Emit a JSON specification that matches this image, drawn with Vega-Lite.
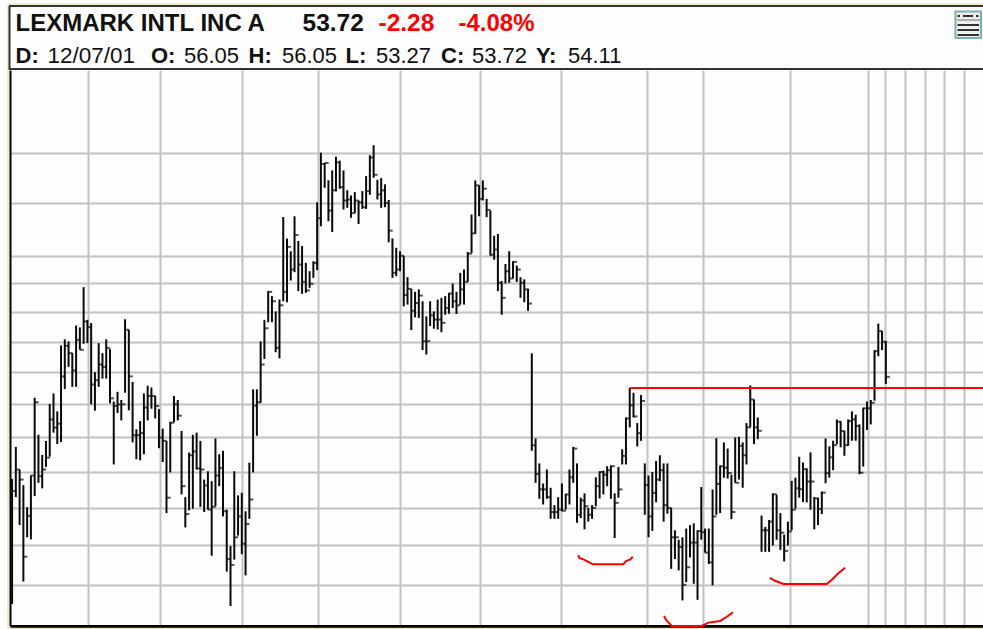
{"$schema":"https://vega.github.io/schema/vega-lite/v6.json","width":973,"height":556,"autosize":{"type":"none"},"padding":{"left":10,"top":70,"right":0,"bottom":3},"background":"#fdfdfd","view":{"stroke":null},
"datasets":{"one":[{"k":1}],
"bars":[
{"day":1,"high":47.61,"low":41.05,"close":46.93},{"day":2,"high":49.45,"low":46.59,"close":48.14},{"day":3,"high":48.14,"low":45.08,"close":47.57},{"day":4,"high":47.26,"low":42.16,"close":43.42},{"day":5,"high":46.04,"low":44.43,"close":45.57},{"day":6,"high":47.8,"low":44.32,"close":47.8},{"day":7,"high":52.41,"low":46.65,"close":52.13},{"day":8,"high":50.16,"low":47.39,"close":47.76},{"day":9,"high":48.98,"low":47.08,"close":48.14},{"day":10,"high":49.8,"low":48.29,"close":48.82},
{"day":11,"high":52.02,"low":48.88,"close":51.08},{"day":12,"high":52.68,"low":50.29,"close":50.59},{"day":13,"high":51.57,"low":49.61,"close":50.82},{"day":14,"high":55.76,"low":49.73,"close":53.75},{"day":15,"high":56.16,"low":52.95,"close":55.73},{"day":16,"high":56.02,"low":54.36,"close":55.25},{"day":17,"high":55.25,"low":53.09,"close":54.13},{"day":18,"high":57.09,"low":53.09,"close":56.13},{"day":19,"high":56.96,"low":55.47,"close":55.47},{"day":20,"high":59.74,"low":55.87,"close":57.36},
{"day":21,"high":57.47,"low":55.91,"close":56.98},{"day":22,"high":57.25,"low":52.0,"close":53.24},{"day":23,"high":54.02,"low":51.61,"close":53.51},{"day":24,"high":55.91,"low":53.09,"close":54.51},{"day":25,"high":55.25,"low":53.61,"close":54.36},{"day":26,"high":56.16,"low":53.61,"close":55.58},{"day":27,"high":55.51,"low":52.06,"close":52.37},{"day":28,"high":52.17,"low":48.43,"close":51.9},{"day":29,"high":52.78,"low":51.47,"close":52.0},{"day":30,"high":52.27,"low":51.02,"close":52.0},
{"day":31,"high":57.51,"low":52.72,"close":56.8},{"day":32,"high":56.8,"low":51.63,"close":53.75},{"day":33,"high":53.4,"low":49.71,"close":50.14},{"day":34,"high":50.49,"low":48.73,"close":50.14},{"day":35,"high":50.98,"low":48.67,"close":50.26},{"day":36,"high":52.68,"low":49.02,"close":51.8},{"day":37,"high":53.16,"low":51.02,"close":52.52},{"day":38,"high":53.05,"low":51.73,"close":52.52},{"day":39,"high":52.52,"low":51.14,"close":51.9},{"day":40,"high":51.71,"low":49.37,"close":50.0},
{"day":41,"high":50.53,"low":48.57,"close":49.8},{"day":42,"high":49.8,"low":45.72,"close":46.56},{"day":43,"high":50.94,"low":47.98,"close":50.88},{"day":44,"high":52.52,"low":50.92,"close":52.0},{"day":45,"high":52.27,"low":51.02,"close":51.31},{"day":46,"high":50.39,"low":46.74,"close":47.2},{"day":47,"high":46.59,"low":44.95,"close":45.67},{"day":48,"high":49.12,"low":45.87,"close":48.96},{"day":49,"high":50.16,"low":45.96,"close":49.18},{"day":50,"high":50.29,"low":48.14,"close":48.2},
{"day":51,"high":49.8,"low":46.06,"close":48.14},{"day":52,"high":47.57,"low":45.78,"close":47.24},{"day":53,"high":48.04,"low":45.91,"close":45.91},{"day":54,"high":47.48,"low":43.47,"close":46.06},{"day":55,"high":49.94,"low":46.09,"close":47.8},{"day":56,"high":49.02,"low":47.2,"close":48.22},{"day":57,"high":49.22,"low":45.54,"close":45.82},{"day":58,"high":45.91,"low":42.66,"close":43.3},{"day":59,"high":43.97,"low":40.96,"close":43.0},{"day":60,"high":48.04,"low":43.27,"close":44.43},
{"day":61,"high":46.69,"low":44.52,"close":45.54},{"day":62,"high":46.83,"low":43.55,"close":44.09},{"day":63,"high":45.82,"low":42.47,"close":45.13},{"day":64,"high":48.53,"low":45.41,"close":46.46},{"day":65,"high":52.93,"low":47.98,"close":51.92},{"day":66,"high":52.93,"low":50.1,"close":52.13},{"day":67,"high":56.02,"low":52.1,"close":54.51},{"day":68,"high":57.47,"low":54.87,"close":56.91},{"day":69,"high":59.46,"low":57.31,"close":59.41},{"day":70,"high":59.11,"low":57.31,"close":58.75},
{"day":71,"high":58.05,"low":55.31,"close":55.6},{"day":72,"high":58.87,"low":54.91,"close":58.47},{"day":73,"high":64.91,"low":58.75,"close":59.41},{"day":74,"high":63.28,"low":58.68,"close":62.66},{"day":75,"high":62.33,"low":60.21,"close":61.0},{"day":76,"high":64.97,"low":60.81,"close":63.54},{"day":77,"high":63.1,"low":59.46,"close":61.36},{"day":78,"high":62.72,"low":59.27,"close":60.12},{"day":79,"high":61.48,"low":59.34,"close":59.51},{"day":80,"high":60.88,"low":59.69,"close":59.98},
{"day":81,"high":61.6,"low":60.4,"close":61.48},{"day":82,"high":66.05,"low":60.95,"close":64.82},{"day":83,"high":70.05,"low":64.2,"close":69.12},{"day":84,"high":69.2,"low":67.2,"close":69.2},{"day":85,"high":67.79,"low":64.59,"close":65.41},{"day":86,"high":68.59,"low":63.77,"close":67.0},{"day":87,"high":69.71,"low":66.91,"close":69.25},{"day":88,"high":69.39,"low":67.12,"close":67.25},{"day":89,"high":68.59,"low":65.49,"close":66.19},{"day":90,"high":67.0,"low":65.62,"close":66.27},
{"day":91,"high":66.59,"low":64.85,"close":65.21},{"day":92,"high":66.85,"low":65.21,"close":66.19},{"day":93,"high":66.19,"low":64.38,"close":66.05},{"day":94,"high":66.93,"low":65.54,"close":65.67},{"day":95,"high":68.13,"low":65.54,"close":66.93},{"day":96,"high":69.84,"low":66.64,"close":69.65},{"day":97,"high":70.67,"low":68.0,"close":68.24},{"day":98,"high":67.84,"low":66.27,"close":66.67},{"day":99,"high":67.97,"low":65.62,"close":66.99},{"day":100,"high":67.47,"low":65.67,"close":66.0},
{"day":101,"high":66.23,"low":63.0,"close":63.87},{"day":102,"high":63.28,"low":60.4,"close":60.76},{"day":103,"high":62.59,"low":60.52,"close":61.0},{"day":104,"high":62.33,"low":60.88,"close":62.0},{"day":105,"high":62.0,"low":58.4,"close":59.18},{"day":106,"high":60.45,"low":58.52,"close":59.62},{"day":107,"high":59.62,"low":56.78,"close":58.09},{"day":108,"high":59.41,"low":57.64,"close":58.63},{"day":109,"high":59.58,"low":57.6,"close":59.15},{"day":110,"high":58.75,"low":55.45,"close":56.04},
{"day":111,"high":57.71,"low":55.16,"close":56.04},{"day":112,"high":58.75,"low":57.05,"close":57.78},{"day":113,"high":58.05,"low":56.87,"close":57.49},{"day":114,"high":58.87,"low":56.82,"close":57.49},{"day":115,"high":58.99,"low":56.64,"close":57.27},{"day":116,"high":59.11,"low":57.82,"close":58.28},{"day":117,"high":59.34,"low":57.89,"close":59.29},{"day":118,"high":60.0,"low":58.28,"close":58.75},{"day":119,"high":59.41,"low":57.87,"close":58.47},{"day":120,"high":60.76,"low":58.52,"close":59.58},
{"day":121,"high":61.0,"low":58.52,"close":60.12},{"day":122,"high":62.28,"low":60.12,"close":62.15},{"day":123,"high":65.1,"low":62.2,"close":63.67},{"day":124,"high":67.79,"low":63.64,"close":67.39},{"day":125,"high":67.39,"low":64.97,"close":66.32},{"day":126,"high":67.79,"low":66.19,"close":67.12},{"day":127,"high":66.32,"low":64.9,"close":65.46},{"day":128,"high":65.41,"low":62.0,"close":62.08},{"day":129,"high":63.49,"low":61.71,"close":62.46},{"day":130,"high":63.62,"low":59.46,"close":60.05},
{"day":131,"high":60.17,"low":57.82,"close":58.99},{"day":132,"high":61.4,"low":60.0,"close":60.88},{"day":133,"high":62.33,"low":60.05,"close":60.36},{"day":134,"high":61.6,"low":60.36,"close":61.55},{"day":135,"high":61.29,"low":60.1,"close":61.0},{"day":136,"high":60.45,"low":58.99,"close":60.05},{"day":137,"high":60.29,"low":58.68,"close":59.58},{"day":138,"high":59.62,"low":58.09,"close":58.59},{"day":139,"high":55.24,"low":49.22,"close":49.54},{"day":140,"high":49.94,"low":47.39,"close":47.89},
{"day":141,"high":48.49,"low":46.5,"close":47.02},{"day":142,"high":47.35,"low":46.19,"close":47.02},{"day":143,"high":48.14,"low":46.5,"close":46.59},{"day":144,"high":47.11,"low":45.41,"close":45.78},{"day":145,"high":46.15,"low":45.41,"close":45.78},{"day":146,"high":46.59,"low":45.41,"close":45.91},{"day":147,"high":47.35,"low":45.82,"close":45.85},{"day":148,"high":46.78,"low":45.91,"close":46.74},{"day":149,"high":48.14,"low":46.19,"close":47.7},{"day":150,"high":49.45,"low":47.39,"close":49.35},
{"day":151,"high":48.49,"low":45.2,"close":45.63},{"day":152,"high":46.56,"low":45.45,"close":46.41},{"day":153,"high":46.8,"low":44.85,"close":46.09},{"day":154,"high":46.0,"low":45.26,"close":45.63},{"day":155,"high":46.15,"low":45.41,"close":46.0},{"day":156,"high":47.7,"low":46.09,"close":47.2},{"day":157,"high":48.04,"low":46.52,"close":48.0},{"day":158,"high":48.08,"low":46.74,"close":47.85},{"day":159,"high":48.33,"low":47.2,"close":48.1},{"day":160,"high":48.37,"low":46.5,"close":48.33},
{"day":161,"high":46.8,"low":44.39,"close":46.28},{"day":162,"high":48.29,"low":46.56,"close":47.02},{"day":163,"high":49.31,"low":48.43,"close":48.92},{"day":164,"high":51.2,"low":48.43,"close":51.14},{"day":165,"high":53.03,"low":50.6,"close":51.94},{"day":166,"high":52.72,"low":51.2,"close":51.26},{"day":167,"high":50.86,"low":49.47,"close":50.26},{"day":168,"high":52.58,"low":49.8,"close":52.21},{"day":169,"high":48.49,"low":45.63,"close":47.26},{"day":170,"high":47.8,"low":44.43,"close":45.54},
{"day":171,"high":48.0,"low":44.76,"close":46.83},{"day":172,"high":48.63,"low":46.31,"close":47.57},{"day":173,"high":48.96,"low":47.48,"close":48.1},{"day":174,"high":48.49,"low":45.26,"close":46.15},{"day":175,"high":48.49,"low":45.69,"close":46.0},{"day":176,"high":46.0,"low":42.8,"close":44.43},{"day":177,"high":44.8,"low":43.3,"close":44.43},{"day":178,"high":44.3,"low":42.72,"close":43.92},{"day":179,"high":44.43,"low":41.23,"close":42.0},{"day":180,"high":44.89,"low":42.13,"close":42.88},
{"day":181,"high":45.07,"low":43.38,"close":44.15},{"day":182,"high":45.17,"low":42.05,"close":44.15},{"day":183,"high":44.8,"low":41.26,"close":44.76},{"day":184,"high":47.15,"low":44.3,"close":44.7},{"day":185,"high":44.89,"low":43.63,"close":43.63},{"day":186,"high":44.89,"low":43.05,"close":43.13},{"day":187,"high":47.02,"low":41.97,"close":45.54},{"day":188,"high":49.96,"low":45.63,"close":47.33},{"day":189,"high":48.37,"low":45.72,"close":48.33},{"day":190,"high":49.71,"low":47.67,"close":48.24},
{"day":191,"high":49.35,"low":47.63,"close":47.94},{"day":192,"high":47.85,"low":45.39,"close":45.78},{"day":193,"high":50.0,"low":47.39,"close":47.39},{"day":194,"high":50.04,"low":47.57,"close":49.51},{"day":195,"high":49.71,"low":47.11,"close":48.96},{"day":196,"high":50.86,"low":48.43,"close":50.6},{"day":197,"high":53.18,"low":50.6,"close":52.3},{"day":198,"high":52.3,"low":49.61,"close":50.6},{"day":199,"high":51.2,"low":49.9,"close":50.4},{"day":200,"high":45.59,"low":43.67,"close":44.8},
{"day":201,"high":44.98,"low":43.67,"close":44.8},{"day":202,"high":45.35,"low":43.67,"close":45.26},{"day":203,"high":46.8,"low":44.0,"close":46.75},{"day":204,"high":46.71,"low":44.3,"close":44.8},{"day":205,"high":45.72,"low":43.77,"close":44.67},{"day":206,"high":44.57,"low":43.18,"close":43.72},{"day":207,"high":45.26,"low":44.0,"close":44.74},{"day":208,"high":47.5,"low":44.8,"close":45.9},{"day":209,"high":47.68,"low":45.96,"close":47.08},{"day":210,"high":48.87,"low":46.56,"close":47.03},
{"day":211,"high":48.54,"low":46.32,"close":48.16},{"day":212,"high":48.2,"low":46.3,"close":47.46},{"day":213,"high":49.13,"low":45.9,"close":47.46},{"day":214,"high":46.6,"low":44.85,"close":46.52},{"day":215,"high":46.56,"low":45.08,"close":45.94},{"day":216,"high":46.9,"low":45.67,"close":46.84},{"day":217,"high":49.94,"low":47.36,"close":47.93},{"day":218,"high":49.48,"low":47.68,"close":48.84},{"day":219,"high":49.81,"low":48.1,"close":49.55},{"day":220,"high":51.08,"low":49.61,"close":50.94},
{"day":221,"high":50.98,"low":49.42,"close":50.39},{"day":222,"high":50.39,"low":48.93,"close":49.55},{"day":223,"high":51.08,"low":49.52,"close":50.98},{"day":224,"high":51.57,"low":49.81,"close":51.08},{"day":225,"high":51.37,"low":49.81,"close":50.69},{"day":226,"high":50.78,"low":47.87,"close":47.96},{"day":227,"high":51.8,"low":48.31,"close":51.76},{"day":228,"high":52.17,"low":50.45,"close":51.76},{"day":229,"high":52.27,"low":50.78,"close":52.1},{"day":230,"high":55.45,"low":52.23,"close":55.38},
{"day":231,"high":57.22,"low":55.05,"close":56.71},{"day":232,"high":56.71,"low":55.45,"close":56.0},{"day":233,"high":56.05,"low":53.27,"close":53.72}],
"drawn":[
{"line":"neckline","day":165.1,"price":53.01},{"line":"neckline","day":258.8,"price":53.01},
{"line":"cup1","day":151.35,"price":43.5},{"line":"cup1","day":151.6,"price":43.35},{"line":"cup1","day":152.7,"price":43.28},{"line":"cup1","day":154,"price":43.16},{"line":"cup1","day":155.2,"price":43.03},{"line":"cup1","day":163.3,"price":43.03},{"line":"cup1","day":164,"price":43.2},{"line":"cup1","day":165.2,"price":43.28},{"line":"cup1","day":165.8,"price":43.42},
{"line":"cup2","day":174.1,"price":40.48},{"line":"cup2","day":174.8,"price":40.25},{"line":"cup2","day":176.2,"price":40.0},{"line":"cup2","day":184.1,"price":40.0},{"line":"cup2","day":185.9,"price":40.16},{"line":"cup2","day":189,"price":40.24},{"line":"cup2","day":190.8,"price":40.44},{"line":"cup2","day":192.4,"price":40.65},
{"line":"cup3","day":202.2,"price":42.35},{"line":"cup3","day":203.6,"price":42.2},{"line":"cup3","day":205.8,"price":42.04},{"line":"cup3","day":217.3,"price":42.04},{"line":"cup3","day":218.6,"price":42.24},{"line":"cup3","day":220.4,"price":42.58},{"line":"cup3","day":222.2,"price":42.86}]},
"layer":[
{"data":{"name":"bars"},"mark":{"type":"rule","color":"#0a0a0a","strokeWidth":2},
"encoding":{"x":{"field":"day","type":"quantitative","scale":{"domain":[0.45,258.8],"nice":false,"zero":false},"axis":{"values":[21.04,40.15,61.93,82.11,103.87,125.17,146.67,169.47,184.37,207.67,228.37,232.67,237.97,243.27,248.57,253.87],"labels":false,"ticks":false,"title":null,"grid":true,"gridColor":"#c2c2c2","gridWidth":2,"domainColor":"#000000","domainWidth":3}},
"y":{"field":"high","type":"quantitative","scale":{"type":"log","domain":[40,77.25],"nice":false},"axis":{"values":[42,44,46,48,50,52,54,56,58,60,62,66,70],"labels":false,"ticks":false,"title":null,"grid":true,"gridColor":"#c2c2c2","gridWidth":2,"domainColor":"#000000","domainWidth":2}},"y2":{"field":"low"}}},
{"data":{"name":"bars"},"mark":{"type":"tick","orient":"horizontal","color":"#0a0a0a","size":4,"thickness":2,"xOffset":2},
"encoding":{"x":{"field":"day","type":"quantitative","scale":{"domain":[0.45,258.8],"nice":false,"zero":false}},"y":{"field":"close","type":"quantitative","scale":{"type":"log","domain":[40,77.25],"nice":false}}}},
{"data":{"name":"drawn"},"mark":{"type":"line","color":"#ff0000","strokeWidth":2,"clip":false},
"encoding":{"x":{"field":"day","type":"quantitative","scale":{"domain":[0.45,258.8],"nice":false,"zero":false}},"y":{"field":"price","type":"quantitative","scale":{"type":"log","domain":[40,77.25],"nice":false}},"detail":{"field":"line"}}},
{"data":{"name":"one"},"mark":{"type":"rule","color":"#333333","strokeWidth":2},"encoding":{"x":{"value":-1},"x2":{"value":973},"y":{"value":-1},"y2":{"value":-1}}},
{"data":{"name":"one"},"mark":{"type":"rule","color":"#333333","strokeWidth":2},"encoding":{"x":{"value":-1},"x2":{"value":973},"y":{"value":-64},"y2":{"value":-64}}},
{"data":{"name":"one"},"mark":{"type":"rule","color":"#e9e6b8","strokeWidth":1.5},"encoding":{"x":{"value":-2},"x2":{"value":973},"y":{"value":-66},"y2":{"value":-66}}},
{"data":{"name":"one"},"mark":{"type":"rule","color":"#e9e6b8","strokeWidth":1.5},"encoding":{"x":{"value":-2},"x2":{"value":973},"y":{"value":558.5},"y2":{"value":558.5}}},
{"data":{"name":"one"},"mark":{"type":"rule","color":"#e9e6b8","strokeWidth":1.5},"encoding":{"x":{"value":-2},"x2":{"value":-2},"y":{"value":-66},"y2":{"value":558}}},
{"data":{"name":"one"},"mark":{"type":"rule","color":"#333333","strokeWidth":2},"encoding":{"x":{"value":-0.5},"x2":{"value":-0.5},"y":{"value":-64},"y2":{"value":0}}},
{"data":{"name":"one"},"mark":{"type":"rect","fill":"#eeeeee","stroke":"#7fb0b0","strokeWidth":2},"encoding":{"x":{"value":945.5},"x2":{"value":971},"y":{"value":-58.5},"y2":{"value":-32}}},
{"data":{"name":"one"},"mark":{"type":"rule","color":"#9a9a9a","strokeWidth":1.5},"encoding":{"x":{"value":947},"x2":{"value":970},"y":{"value":-50},"y2":{"value":-50}}},
{"data":{"name":"one"},"mark":{"type":"rule","color":"#333333","strokeWidth":2},"encoding":{"x":{"value":953},"x2":{"value":963},"y":{"value":-54},"y2":{"value":-54}}},
{"data":{"name":"one"},"mark":{"type":"rule","color":"#333333","strokeWidth":2},"encoding":{"x":{"value":947.5},"x2":{"value":950},"y":{"value":-54},"y2":{"value":-54}}},
{"data":{"name":"one"},"mark":{"type":"rule","color":"#333333","strokeWidth":2},"encoding":{"x":{"value":966},"x2":{"value":968.5},"y":{"value":-54},"y2":{"value":-54}}},
{"data":{"name":"one"},"mark":{"type":"rule","color":"#333333","strokeWidth":2},"encoding":{"x":{"value":947.5},"x2":{"value":969},"y":{"value":-45},"y2":{"value":-45}}},
{"data":{"name":"one"},"mark":{"type":"rule","color":"#333333","strokeWidth":2},"encoding":{"x":{"value":947.5},"x2":{"value":969},"y":{"value":-40},"y2":{"value":-40}}},
{"data":{"name":"one"},"mark":{"type":"rule","color":"#333333","strokeWidth":2},"encoding":{"x":{"value":947.5},"x2":{"value":969},"y":{"value":-35},"y2":{"value":-35}}},
{"data":{"values":[{"label":"LEXMARK INTL INC A"}]},"mark":{"type":"text","align":"left","baseline":"alphabetic","font":"Liberation Sans","fontSize":24,"fontWeight":"bold","color":"#111111"},"encoding":{"text":{"field":"label"},"x":{"value":5.5},"y":{"value":-39}}},
{"data":{"values":[{"label":"53.72"}]},"mark":{"type":"text","align":"left","baseline":"alphabetic","font":"Liberation Sans","fontSize":24.5,"fontWeight":"bold","color":"#111111"},"encoding":{"text":{"field":"label"},"x":{"value":292.5},"y":{"value":-39}}},
{"data":{"values":[{"label":"-2.28"}]},"mark":{"type":"text","align":"left","baseline":"alphabetic","font":"Liberation Sans","fontSize":24.5,"fontWeight":"bold","color":"#ff0000"},"encoding":{"text":{"field":"label"},"x":{"value":368.5},"y":{"value":-39}}},
{"data":{"values":[{"label":"-4.08%"}]},"mark":{"type":"text","align":"left","baseline":"alphabetic","font":"Liberation Sans","fontSize":24,"fontWeight":"bold","color":"#ff0000"},"encoding":{"text":{"field":"label"},"x":{"value":448.5},"y":{"value":-39}}},
{"data":{"values":[{"label":"D:"}]},"mark":{"type":"text","align":"left","baseline":"alphabetic","font":"Liberation Sans","fontSize":22,"fontWeight":"bold","color":"#111111"},"encoding":{"text":{"field":"label"},"x":{"value":5.5},"y":{"value":-7}}},
{"data":{"values":[{"label":"12/07/01"}]},"mark":{"type":"text","align":"left","baseline":"alphabetic","font":"Liberation Sans","fontSize":22.5,"color":"#111111"},"encoding":{"text":{"field":"label"},"x":{"value":37.5},"y":{"value":-7}}},
{"data":{"values":[{"label":"O:"}]},"mark":{"type":"text","align":"left","baseline":"alphabetic","font":"Liberation Sans","fontSize":22,"fontWeight":"bold","color":"#111111"},"encoding":{"text":{"field":"label"},"x":{"value":141},"y":{"value":-7}}},
{"data":{"values":[{"label":"56.05"}]},"mark":{"type":"text","align":"left","baseline":"alphabetic","font":"Liberation Sans","fontSize":22,"color":"#111111"},"encoding":{"text":{"field":"label"},"x":{"value":174},"y":{"value":-7}}},
{"data":{"values":[{"label":"H:"}]},"mark":{"type":"text","align":"left","baseline":"alphabetic","font":"Liberation Sans","fontSize":22,"fontWeight":"bold","color":"#111111"},"encoding":{"text":{"field":"label"},"x":{"value":238.5},"y":{"value":-7}}},
{"data":{"values":[{"label":"56.05"}]},"mark":{"type":"text","align":"left","baseline":"alphabetic","font":"Liberation Sans","fontSize":22,"color":"#111111"},"encoding":{"text":{"field":"label"},"x":{"value":272},"y":{"value":-7}}},
{"data":{"values":[{"label":"L:"}]},"mark":{"type":"text","align":"left","baseline":"alphabetic","font":"Liberation Sans","fontSize":22,"fontWeight":"bold","color":"#111111"},"encoding":{"text":{"field":"label"},"x":{"value":335.5},"y":{"value":-7}}},
{"data":{"values":[{"label":"53.27"}]},"mark":{"type":"text","align":"left","baseline":"alphabetic","font":"Liberation Sans","fontSize":22,"color":"#111111"},"encoding":{"text":{"field":"label"},"x":{"value":366},"y":{"value":-7}}},
{"data":{"values":[{"label":"C:"}]},"mark":{"type":"text","align":"left","baseline":"alphabetic","font":"Liberation Sans","fontSize":22,"fontWeight":"bold","color":"#111111"},"encoding":{"text":{"field":"label"},"x":{"value":431},"y":{"value":-7}}},
{"data":{"values":[{"label":"53.72"}]},"mark":{"type":"text","align":"left","baseline":"alphabetic","font":"Liberation Sans","fontSize":22,"color":"#111111"},"encoding":{"text":{"field":"label"},"x":{"value":462},"y":{"value":-7}}},
{"data":{"values":[{"label":"Y:"}]},"mark":{"type":"text","align":"left","baseline":"alphabetic","font":"Liberation Sans","fontSize":22,"fontWeight":"bold","color":"#111111"},"encoding":{"text":{"field":"label"},"x":{"value":526},"y":{"value":-7}}},
{"data":{"values":[{"label":"54.11"}]},"mark":{"type":"text","align":"left","baseline":"alphabetic","font":"Liberation Sans","fontSize":22,"color":"#111111"},"encoding":{"text":{"field":"label"},"x":{"value":558},"y":{"value":-7}}}
]}
